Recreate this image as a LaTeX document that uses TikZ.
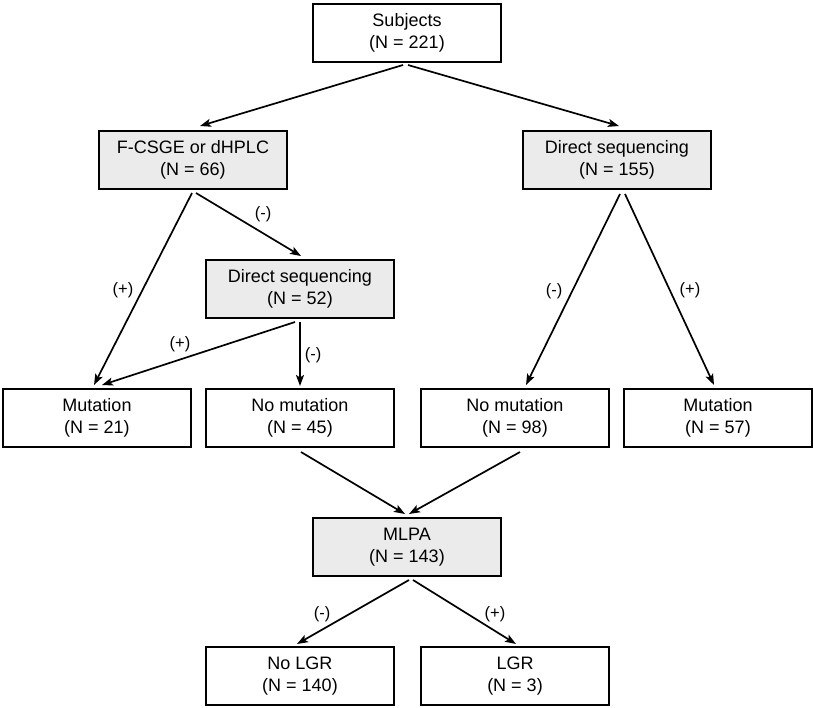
\documentclass[tikz,border=0pt]{standalone}
\usepackage{fontspec}
\setmainfont{Liberation Sans}
\usetikzlibrary{arrows.meta}
\definecolor{boxgray}{HTML}{EBEBEB}
\tikzset{
  box/.style={draw=black, line width=2pt, minimum width=188pt, minimum height=58pt, inner sep=0pt, align=center, font=\fontsize{18}{22}\selectfont},
  graybox/.style={box, fill=boxgray},
  whitebox/.style={box, fill=white},
  arr/.style={line width=1.7pt, -{Stealth[length=11pt,width=8pt,inset=2.5pt]}},
  lab/.style={font=\fontsize{16.5}{19}\selectfont, inner sep=0pt}
}
\begin{document}
\begin{tikzpicture}[x=1pt,y=-1pt]
\useasboundingbox (0,0) rectangle (813,707);
\node[whitebox] (subj) at (407,33) {Subjects\\(N = 221)};
\node[graybox] (fc) at (193,160) {F-CSGE or dHPLC\\(N = 66)};
\node[graybox] (ds1) at (617,160) {Direct sequencing\\(N = 155)};
\node[graybox] (ds2) at (300,289) {Direct sequencing\\(N = 52)};
\node[whitebox] (m1) at (97,418) {Mutation\\(N = 21)};
\node[whitebox] (nm1) at (300,418) {No mutation\\(N = 45)};
\node[whitebox] (nm2) at (515,418) {No mutation\\(N = 98)};
\node[whitebox] (m2) at (718,418) {Mutation\\(N = 57)};
\node[graybox] (mlpa) at (407,547) {MLPA\\(N = 143)};
\node[whitebox] (nolgr) at (300,676) {No LGR\\(N = 140)};
\node[whitebox] (lgr) at (515,676) {LGR\\(N = 3)};

\draw[arr] ([xshift=-4pt,yshift=-2pt]subj.south) -- ([xshift=7pt,yshift=4pt]fc.north);
\draw[arr] ([xshift=1pt,yshift=-2pt]subj.south) -- ([xshift=2pt,yshift=4pt]ds1.north);
\draw[arr] ([xshift=-1pt,yshift=-3pt]fc.south) -- ([xshift=-3pt,yshift=3pt]m1.north);
\draw[arr] ([xshift=3pt,yshift=-3pt]fc.south) -- ([xshift=1pt,yshift=3pt]ds2.north);
\draw[arr] ([xshift=-5pt,yshift=-3pt]ds2.south) -- ([xshift=5pt,yshift=3pt]m1.north);
\draw[arr] ([yshift=-3pt]ds2.south) -- ([yshift=2pt]nm1.north);
\draw[arr] ([xshift=3pt,yshift=-4pt]ds1.south) -- ([xshift=11pt,yshift=3pt]nm2.north);
\draw[arr] ([xshift=8pt,yshift=-4pt]ds1.south) -- ([xshift=-4pt,yshift=3pt]m2.north);
\draw[arr] ([xshift=1pt,yshift=-4pt]nm1.south) -- ([xshift=-2pt,yshift=3pt]mlpa.north);
\draw[arr] ([xshift=5pt,yshift=-4pt]nm2.south) -- ([xshift=2pt,yshift=3pt]mlpa.north);
\draw[arr] ([xshift=2pt,yshift=-3pt]mlpa.south) -- ([xshift=-3pt,yshift=2pt]nolgr.north);
\draw[arr] ([xshift=6pt,yshift=-3pt]mlpa.south) -- ([xshift=1pt,yshift=2pt]lgr.north);

\node[lab] (l1) at (123,290) {(+)};
\node[lab] (l2) at (263,214) {(-)};
\node[lab] (l3) at (180,344) {(+)};
\node[lab] (l4) at (313,355) {(-)};
\node[lab] (l5) at (554,291) {(-)};
\node[lab] (l6) at (690,290) {(+)};
\node[lab] (l7) at (322,614) {(-)};
\node[lab] (l8) at (495,614) {(+)};
\end{tikzpicture}
\end{document}
